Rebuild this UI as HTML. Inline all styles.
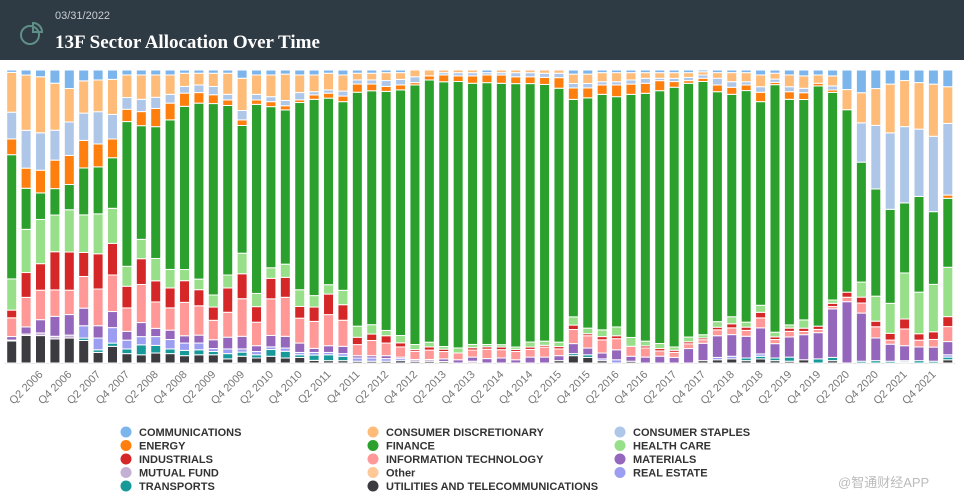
<!DOCTYPE html>
<html><head><meta charset="utf-8"><style>
body{margin:0;width:964px;height:499px;background:#fff;overflow:hidden;font-family:"Liberation Sans",sans-serif;}
#hdr{position:absolute;left:0;top:0;width:964px;height:60px;background:#2e3a44;}
#date{position:absolute;left:55px;top:10px;color:#c9cfd4;font-size:11px;}
#title{position:absolute;left:55px;top:32px;color:#fff;font-family:"Liberation Serif",serif;font-weight:bold;font-size:19px;}
svg{position:absolute;left:0;top:0;}
#wm{position:absolute;left:838px;top:472px;color:#bbb;font-size:13px;font-family:"Liberation Sans","Noto Sans CJK SC",sans-serif;}
</style></head><body>
<div id="hdr">
<svg width="40" height="40" style="left:14px;top:14px"><circle cx="16" cy="21" r="9" fill="none" stroke="#5f8f86" stroke-width="2"/><path d="M19 9 A9 9 0 0 1 28 18 L19 18 Z" fill="none" stroke="#5f8f86" stroke-width="2"/></svg>
<div id="date">03/31/2022</div>
<div id="title">13F Sector Allocation Over Time</div>
</div>
<svg id="chart" width="964" height="499" style="top:0"></svg>
<div id="wm">@智通财经APP</div>
<script>
const seriesNames=["UTILITIES AND TELECOMMUNICATIONS","TRANSPORTS","REAL ESTATE","MUTUAL FUND","MATERIALS","INFORMATION TECHNOLOGY","INDUSTRIALS","HEALTH CARE","FINANCE","ENERGY","CONSUMER STAPLES","CONSUMER DISCRETIONARY","COMMUNICATIONS"];
const seriesColors=["#3b3b40","#17999a","#9c9ef2","#c5b0d5","#9467bd","#ff9896","#d62728","#98df8a","#2ca02c","#ff7f0e","#aec7e8","#ffbb78","#7cb5ec"];
const util=[7.4,9.3,9.3,8.2,8.5,7.7,3.6,5.7,3.2,2.8,3.4,3.2,2.5,2.8,2.8,1.4,2.3,1.7,2.3,1.7,1.9,.9,.8,.8,.6,.6,.6,.8,.6,.6,.5,0,0,0,0,0,0,0,.8,2.5,1.9,.8,0,.6,0,0,0,0,.8,1.1,1.4,.8,1.4,.8,.6,1.1,0,.8,0,0,0,0,.4,0,0,1.1];
const trans=[0,0,0,0,0,.8,.9,1.1,1.6,3.4,2.6,1.6,1.8,1.7,1.1,1.8,1.4,1.1,2.3,2.3,.9,1.8,2,1.5,0,0,0,0,0,0,0,0,0,0,0,0,0,0,0,.7,.9,0,0,0,0,0,0,0,0,0,0,.9,.9,.9,1.4,0,1.4,1.1,0,.6,.8,.6,.4,.8,.6,.9];
const realEstate=[0,0,0,0,0,4.2,4,5.3,3,2.8,3,3.2,2.5,2.3,1,1.6,1.1,1.1,.9,1.1,.8,.9,.8,.9,1.1,1.1,.9,.7,0,0,0,0,0,0,0,0,0,0,0,0,0,.6,1.1,0,0,0,0,0,0,.8,.9,0,.8,0,0,0,0,0,0,0,0,0,0,0,0,.8];
const mutualFund=[.3,.5,.9,.9,1,0,0,0,0,0,0,0,0,0,0,0,0,0,0,0,0,0,0,0,0,0,0,0,.6,.6,0,0,.6,0,0,0,0,0,0,0,0,0,0,0,0,0,0,0,0,0,0,0,0,0,0,0,0,0,0,0,0,0,0,0,0,0];
const materials=[1.2,2.4,4.5,6.8,7,6,4.2,5.5,3,4.8,2.8,3.2,2.5,2.7,3,4,4.3,2,3.9,4,3.2,1.4,2.3,2.5,.8,.8,1,.5,0,0,.9,1.1,1.4,1.5,1.7,1.1,2,2,1.7,3.4,2.3,2,3.4,1.7,2,2.3,1.9,4.9,5.9,7.4,7.4,7.4,8.9,4.9,6.9,8.5,8.9,16.5,20.7,16.3,7.7,5.8,5.1,4.7,4.8,4.5];
const infoTech=[6.3,10,10,9,8.3,10.8,12.5,12.5,8,13,9,7.6,11.4,10,6.6,8.5,12.8,8,12.5,13.3,8.5,9.2,10.6,8.9,3.8,5.2,4.3,3.5,2.8,3.2,2.5,2.3,2.4,3.2,2.8,2.8,2.6,3.4,2.3,4.8,4.2,4.5,3.8,3.4,3.1,1.8,1.7,1.6,1.2,2,2.3,2,3.4,1.4,1.9,1.1,1.1,.8,1.5,3.4,3.8,1.4,5.7,2.3,2.6,5.1];
const industrials=[2.6,8.4,9,13,13,8.2,12,10.8,7.4,8.8,7.2,6.8,7.4,5.5,4.5,8.3,8.5,5.3,7,6.8,4,4.9,7,5.3,2.5,2.2,2.5,1.4,.6,1.1,.8,0,.8,.8,.9,.7,.8,.6,.8,1.5,.7,1.1,1,0,.7,.8,.7,.7,.6,.9,1.4,1.1,1.9,.9,1.1,1.1,1.1,1.1,1.7,2,1.9,2.3,3.4,2.2,2.6,3.4];
const healthCare=[10.5,14.6,15,12.5,14.4,12.8,13.6,12,6.8,6.6,7.6,6.3,3.8,3.6,4.1,4.4,7,4.5,3.6,4.5,5.7,3.9,3.2,4.9,3.8,3.2,1.8,2.5,1.7,1.6,.9,1.7,1.1,.8,.8,.8,1.7,1.4,1.5,2.8,1.9,2.3,3,3,1.6,1.7,1.1,1.6,1.1,1.9,2.4,1.7,2.4,1.6,1.1,2.8,0,1.1,0,5.1,8.5,10.2,15.7,14.2,16.1,16.8];
const finance=[41.8,13.9,9,9,8.6,16,16,17.3,49.4,38.8,44.9,51,55.7,60,65,57.8,43.5,64.4,55,52.6,63.9,67,63.6,64.4,80,80,81.5,84,88.6,89.5,90,90.3,88.6,89,88.4,89,87.5,87,86.4,74,78.6,80.3,78.6,82.8,84,85.6,87.5,86,86,78.4,76,78.8,69.5,84.4,77,74.7,81.5,70.6,61.6,40.6,36.4,32,23.9,32.7,24.7,23.5];
const energy=[5.3,6.8,7.7,9.7,9.9,9.4,7.8,6.4,4.2,4.8,6.2,5.7,4.5,3.6,3,1.9,1.9,1.5,1.7,1.4,.9,1.5,1.7,1.9,2.8,2.3,1.7,1.7,.8,1.4,2.3,1.9,2.5,2.6,2.8,2.3,2.3,2.4,3.6,3.9,3.4,3.2,4,3.5,3.4,3.4,1.9,.9,1.1,2.3,2.4,1.9,3.2,.8,2.6,2.3,.9,.8,0,0,0,0,0,0,0,1.1];
const staples=[9,12.8,12.7,10.2,11.4,9.3,11,8.4,4,4.2,3.8,3,2.3,2.6,2.8,1.9,3.2,1.9,1.7,1.8,2.5,1.1,1.1,1.7,1.4,1.4,2,1.9,2,0,.8,1.1,1.1,.8,.8,1.4,1.4,1.4,1.5,1.5,1.5,1.1,1.1,1.4,1.7,.8,1.1,1.1,1.1,2.3,1.9,1.1,1.9,1.1,1.7,1.5,0,1.4,0,13.3,21.6,26,26,23,25.6,24.4];
const discretionary=[13.4,18.7,19,16,11.4,11,10.8,12,7.7,8.3,7.6,6.6,4.5,4,4.5,7.2,11,6.6,7.4,9,6,5.7,5.7,5.5,2.3,2.3,2.7,2.3,2.3,2,.9,.9,.9,0,.9,.9,.9,1.1,1.1,3.2,3.2,3.1,3.1,2.5,1.9,1.9,1.9,1.6,1.1,1.9,3.1,3.1,4,2,4,4.2,2.8,3.4,6.8,10.2,12.5,16.6,15.7,15.9,17.7,12.5];
const communications=[.8,1.7,2.3,4.5,6.3,3.7,3.4,3.2,1.7,1.7,1.7,1.7,1.1,1.1,1.1,1.1,2.8,1.7,1.7,1.4,1.7,1.7,1.1,1.7,1.1,1.1,.9,.9,0,0,0,0,0,.9,0,0,0,0,0,1.4,1.4,.9,.9,.9,.9,.9,.9,.9,.6,.9,.9,.9,1.7,1.1,1.7,2,1.7,2,6.6,7.7,6.3,4.8,3.6,4.3,4.8,5.7];
const seriesData=[util,trans,realEstate,mutualFund,materials,infoTech,industrials,healthCare,finance,energy,staples,discretionary,communications];
const firstYear=2005, firstQ=4;
const categories=[];
for(let i=0;i<66;i++){const q=(firstQ-1+i)%4+1;const y=firstYear+Math.floor((firstQ-1+i)/4);categories.push("Q"+q+" "+y);}

const NS="http://www.w3.org/2000/svg";
const svg=document.getElementById('chart');
const plotL=4.5, plotR=955, plotT=70, plotB=363;
const step=(plotR-plotL)/categories.length;
const barW=10;
function xCenter(i){return plotL+step*(i+0.5);}
function yPct(p){return plotB-(plotB-plotT)*p/100;}
function mk(t,a){const e=document.createElementNS(NS,t);for(const k in a)e.setAttribute(k,a[k]);svg.appendChild(e);return e;}

const base=mk('line',{x1:plotL,x2:plotR,y1:plotB+0.5,y2:plotB+0.5,stroke:'#e6e6e6'});



for(let i=0;i<categories.length;i++){
  let total=0;for(const s of seriesData) total+=s[i];
  let cum=0;
  for(let k=0;k<seriesData.length;k++){
    const v=seriesData[k][i]; if(v<=0) continue;
    const y1=yPct(cum/total*100), y2=yPct((cum+v)/total*100);
    cum+=v;
    const r=mk('rect',{x:xCenter(i)-barW/2,y:y2,width:barW,height:Math.max(0,y1-y2),fill:seriesColors[k],stroke:'#fff','stroke-width':1});
    
    
  }
  if(i%2===0 && i>0){
    const x=xCenter(i)+3, y=plotB+12;
    const t=mk('text',{x:x,y:y,'text-anchor':'end',transform:`rotate(-45 ${x} ${y})`,fill:'#777','font-size':'11'});
    t.textContent=categories[i];
    
    
  }
}
// legend (alphabetical, row-major, 3 columns)
const legendOrder=[12,11,10,9,8,7,6,5,4,3,-1,2,1,0];
const colX=[126,373,620], rowY=[432,445.5,459,472.5,486];
legendOrder.forEach((k,idx)=>{
  const c=idx%3,r=Math.floor(idx/3);
  const name=k<0?"Other":seriesNames[k], col=k<0?"#ffc896":seriesColors[k];
  const g=document.createElementNS(NS,'g');svg.appendChild(g);
  
  
  const ci=document.createElementNS(NS,'circle');ci.setAttribute('cx',colX[c]);ci.setAttribute('cy',rowY[r]);ci.setAttribute('r',5.5);ci.setAttribute('fill',col);g.appendChild(ci);
  const t=document.createElementNS(NS,'text');t.setAttribute('x',colX[c]+13);t.setAttribute('y',rowY[r]+4);t.setAttribute('font-size','11');t.setAttribute('font-weight','bold');t.setAttribute('fill','#333');t.textContent=name;g.appendChild(t);
});
</script>
</body></html>
